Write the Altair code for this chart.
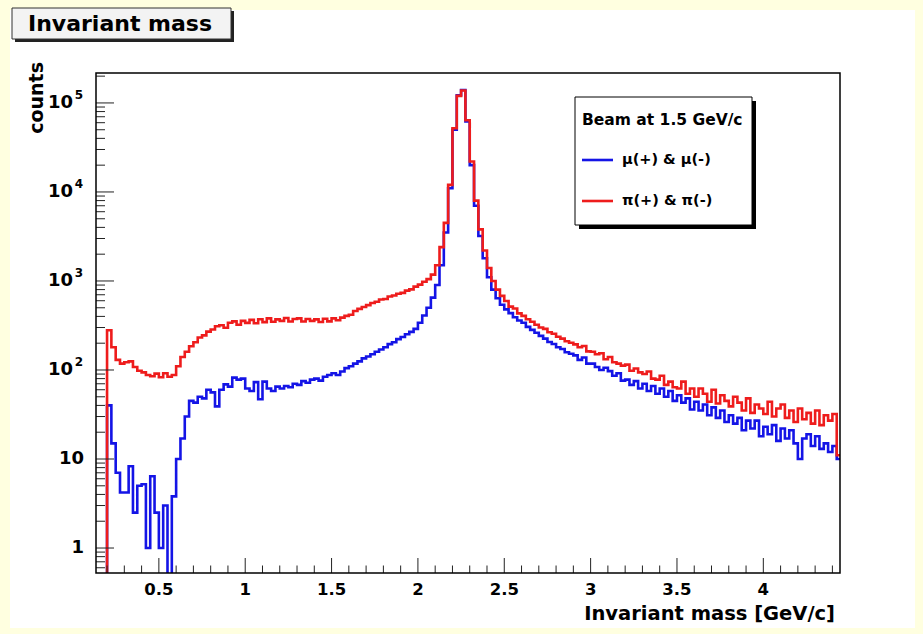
import altair as alt
import pandas as pd

# ---------------- data ----------------
BIN_START = 0.2
BIN_WIDTH = 0.025

# pi(+) & pi(-)  (red), counts per bin, bins of 0.025 GeV/c starting at 0.2
red = [
    280, 180, 130, 118,   # 0.2
    122, 125, 108, 98,    # 0.3
    94, 88, 85, 91,       # 0.4
    83, 92, 84, 88,       # 0.5
    110, 140, 160, 185,   # 0.6
    205, 232, 245, 270,   # 0.7
    285, 310, 318, 298,   # 0.8
    340, 352, 322, 356,   # 0.9
    338, 366, 335, 372,   # 1.0
    345, 380, 348, 370,   # 1.1
    356, 384, 350, 374,   # 1.2
    380, 350, 374, 356,   # 1.3
    370, 346, 376, 352,   # 1.4
    380, 362, 388, 405,   # 1.5
    418, 460, 486, 510,   # 1.6
    536, 566, 585, 620,   # 1.7
    628, 670, 686, 720,   # 1.8
    736, 780, 805, 865,   # 1.9
    910, 980, 1050, 1180,  # 2.0
    1500, 2400, 4500, 12000,  # 2.1
    52000, 120000, 138000, 64000,  # 2.2
    22000, 8000, 3800, 2200,  # 2.3
    1400, 1000, 800, 680,  # 2.4
    595, 515, 490, 432,   # 2.5
    405, 372, 348, 322,   # 2.6
    300, 290, 265, 255,   # 2.7
    236, 225, 210, 202,   # 2.8
    194, 180, 186, 162,   # 2.9
    160, 150, 154, 132,   # 3.0
    140, 122, 118, 112,   # 3.1
    115, 98, 104, 94,     # 3.2
    90, 96, 80, 78,       # 3.3
    86, 68, 74, 64,       # 3.4
    62, 74, 54, 62,       # 3.5
    50, 62, 54, 44,       # 3.6
    60, 42, 52, 45,       # 3.7
    39, 50, 43, 35,       # 3.8
    48, 33, 41, 37,       # 3.9
    32, 44, 30, 37,       # 4.0
    41, 29, 35, 26,       # 4.1
    37, 28, 33, 25,       # 4.2
    35, 24, 31, 27,       # 4.3
    32, 11,               # 4.4
]

# mu(+) & mu(-)  (blue)
blue = [
    40, 15, 7, 4.2,       # 0.2
    4.2, 8.3, 2.5, 5,     # 0.3
    5.2, 1, 6.4, 2.5,     # 0.4
    1, 3, 0, 3.8,         # 0.5
    10, 17, 30, 45,       # 0.6
    43, 50, 48, 60,       # 0.7
    56, 39, 60, 69,       # 0.8
    65, 82, 78, 80,       # 0.9
    62, 58, 73, 47,       # 1.0
    74, 62, 58, 65,       # 1.1
    62, 66, 64, 70,       # 1.2
    68, 75, 72, 78,       # 1.3
    80, 76, 84, 88,       # 1.4
    92, 88, 96, 105,      # 1.5
    110, 118, 125, 135,   # 1.6
    142, 150, 160, 170,   # 1.7
    180, 195, 205, 222,   # 1.8
    235, 252, 268, 290,   # 1.9
    340, 410, 500, 650,   # 2.0
    900, 1500, 3500, 11000,  # 2.1
    50000, 122000, 140000, 62000,  # 2.2
    20000, 7000, 3200, 1800,  # 2.3
    1100, 800, 640, 540,  # 2.4
    480, 435, 392, 360,   # 2.5
    340, 305, 282, 262,   # 2.6
    242, 225, 206, 196,   # 2.7
    180, 172, 158, 152,   # 2.8
    146, 130, 138, 118,   # 2.9
    118, 108, 100, 106,   # 3.0
    97, 86, 92, 76,       # 3.1
    78, 68, 75, 62,       # 3.2
    70, 58, 66, 54,       # 3.3
    62, 50, 58, 45,       # 3.4
    52, 43, 48, 36,       # 3.5
    44, 35, 41, 31,       # 3.6
    38, 29, 35, 26,       # 3.7
    31, 25, 29, 21,       # 3.8
    27, 22, 27, 18,       # 3.9
    23, 19, 24, 16,       # 4.0
    22, 17, 21, 15,       # 4.1
    10, 17, 19, 14,       # 4.2
    18, 13, 15, 12,       # 4.3
    14, 10,               # 4.4
]

x_major = [0.5, 1, 1.5, 2, 2.5, 3, 3.5, 4]
x_major_labels = ["0.5", "1", "1.5", "2", "2.5", "3", "3.5", "4"]
x_minor = [0.2, 0.3, 0.4, 0.6, 0.7, 0.8, 0.9, 1.1, 1.2, 1.3, 1.4, 1.6, 1.7, 1.8, 1.9,
           2.1, 2.2, 2.3, 2.4, 2.6, 2.7, 2.8, 2.9, 3.1, 3.2, 3.3, 3.4, 3.6, 3.7, 3.8,
           3.9, 4.1, 4.2, 4.3, 4.4]
y_major = [1, 10, 100, 1000, 10000, 100000]
y_base = ["1", "10", "10", "10", "10", "10"]
y_exp = ["", "", "2", "3", "4", "5"]
y_minor = [0.6, 0.7, 0.8, 0.9,
           2, 3, 4, 5, 6, 7, 8, 9,
           20, 30, 40, 50, 60, 70, 80, 90,
           200, 300, 400, 500, 600, 700, 800, 900,
           2000, 3000, 4000, 5000, 6000, 7000, 8000, 9000,
           20000, 30000, 40000, 50000, 60000, 70000, 80000, 90000,
           200000]

X_DOMAIN = [0.136, 4.444]
Y_DOMAIN = [0.524, 2.17e5]

# ---------------- layout ----------------
W, H = 744, 500
FONT = "DejaVu Sans"
RED = "#ee1c1c"
BLUE = "#1414e6"

xs = alt.Scale(domain=X_DOMAIN, nice=False, zero=False)
ys = alt.Scale(type="log", domain=Y_DOMAIN, nice=False)


def hist_df(vals):
    n = len(vals)
    edges = [round(BIN_START + BIN_WIDTH * i, 4) for i in range(n + 1)]
    xs_ = [X_DOMAIN[0]] + edges[:n] + [edges[n]]
    ys_ = [0] + list(vals) + [vals[-1]]
    return pd.DataFrame({"m": xs_, "c": ys_})


def hist_layer(vals, color):
    return (
        alt.Chart(hist_df(vals))
        .transform_calculate(cy="max(datum.c, 0.2)")
        .mark_line(interpolate="step-after", clip=True, strokeWidth=2.6, color=color)
        .encode(
            x=alt.X("m:Q", scale=xs, axis=None),
            y=alt.Y("cy:Q", scale=ys, axis=None),
            order=alt.Order("m:Q"),
        )
    )


one = pd.DataFrame({"a": [0]})


def box(x1, y1, x2, y2, **kw):
    return alt.Chart(one).mark_rect(**kw).encode(
        x=alt.value(x1), x2=alt.value(x2), y=alt.value(y1), y2=alt.value(y2)
    )


def label(txt, x, y, **kw):
    return alt.Chart(pd.DataFrame({"t": [txt]})).mark_text(font=FONT, **kw).encode(
        x=alt.value(x), y=alt.value(y), text="t:N"
    )


# white canvas inside a pale yellow border
bg = box(-86, -63, 819, 555, fill="white", strokeWidth=0)

# title box
title_shadow = box(-81, -62, 138, -31, fill="#222222", strokeWidth=0)
title_box = box(-84, -65, 135, -34, fill="#f3f3f3", stroke="#333333", strokeWidth=1)
title_txt = label("Invariant mass", 24, -49, fontSize=22, fontWeight="bold",
                  align="center", baseline="middle", color="black")

blue_line = hist_layer(blue, BLUE)
red_line = hist_layer(red, RED)

# ticks (inside the frame, ROOT style)
xmaj = alt.Chart(pd.DataFrame({"v": x_major})).mark_rule(color="#222", strokeWidth=1).encode(
    x=alt.X("v:Q", scale=xs, axis=None), y=alt.value(H), y2=alt.value(H - 15))
xmin = alt.Chart(pd.DataFrame({"v": x_minor})).mark_rule(color="#222", strokeWidth=1).encode(
    x=alt.X("v:Q", scale=xs, axis=None), y=alt.value(H), y2=alt.value(H - 7.5))
ymaj = alt.Chart(pd.DataFrame({"v": y_major})).mark_rule(color="#222", strokeWidth=1).encode(
    y=alt.Y("v:Q", scale=ys, axis=None), x=alt.value(0), x2=alt.value(18))
ymin = alt.Chart(pd.DataFrame({"v": y_minor})).mark_rule(color="#222", strokeWidth=1).encode(
    y=alt.Y("v:Q", scale=ys, axis=None), x=alt.value(0), x2=alt.value(9))

frame = box(0, 0, W, H, filled=False, stroke="black", strokeWidth=1.5)

# tick labels
xlab = alt.Chart(pd.DataFrame({"v": x_major, "t": x_major_labels})).mark_text(
    font=FONT, fontSize=16.5, fontWeight="bold", align="center", baseline="middle", color="black"
).encode(x=alt.X("v:Q", scale=xs, axis=None), y=alt.value(H + 17), text="t:N")

ydf = pd.DataFrame({"v": y_major, "b": y_base, "e": y_exp})
ylab_plain = alt.Chart(ydf).transform_filter("datum.e == ''").mark_text(
    font=FONT, fontSize=18, fontWeight="bold", align="right", baseline="middle", color="black"
).encode(y=alt.Y("v:Q", scale=ys, axis=None), x=alt.value(-12), text="b:N")
ylab_base = alt.Chart(ydf).transform_filter("datum.e != ''").mark_text(
    font=FONT, fontSize=18, fontWeight="bold", align="right", baseline="middle", color="black"
).encode(y=alt.Y("v:Q", scale=ys, axis=None), x=alt.value(-23), text="b:N")
ylab_exp = alt.Chart(ydf).transform_filter("datum.e != ''").mark_text(
    font=FONT, fontSize=12, fontWeight="bold", align="right", baseline="middle", dy=-8,
    color="black"
).encode(y=alt.Y("v:Q", scale=ys, axis=None), x=alt.value(-13), text="e:N")

# axis titles
xtitle = label("Invariant mass [GeV/c]", 739, 541, fontSize=19.5, fontWeight="bold",
               align="right", baseline="middle", color="black")
ytitle = label("counts", -59, -11, fontSize=19, fontWeight="bold", angle=270,
               align="right", baseline="middle", color="black")

# legend
leg_shadow = box(483, 28, 660, 156, fill="black", strokeWidth=0)
leg_box = box(479, 24, 656, 152, fill="white", stroke="black", strokeWidth=1)
leg_head = label("Beam at 1.5 GeV/c", 486, 47, fontSize=15.5, fontWeight="bold",
                 align="left", baseline="middle", color="black")
leg_blue = alt.Chart(one).mark_rule(color=BLUE, strokeWidth=2.6).encode(
    x=alt.value(486), x2=alt.value(517), y=alt.value(87))
leg_red = alt.Chart(one).mark_rule(color=RED, strokeWidth=2.6).encode(
    x=alt.value(486), x2=alt.value(517), y=alt.value(128))
leg_blue_t = label("μ(+) & μ(-)", 526, 87, fontSize=14.5, fontWeight="bold",
                   align="left", baseline="middle", color="black")
leg_red_t = label("π(+) & π(-)", 526, 128, fontSize=14.5, fontWeight="bold",
                  align="left", baseline="middle", color="black")

chart = alt.layer(
    bg, title_shadow, title_box, title_txt,
    blue_line, red_line,
    xmaj, xmin, ymaj, ymin, frame,
    xlab, ylab_plain, ylab_base, ylab_exp, xtitle, ytitle,
    leg_shadow, leg_box, leg_head, leg_blue, leg_red, leg_blue_t, leg_red_t,
).properties(
    width=W, height=H,
    background="#ffffe0",
    padding={"left": 96, "top": 73, "right": 83, "bottom": 61},
    autosize=alt.AutoSizeParams(type="none"),
).configure_view(stroke=None, fill="white")

chart.save("out.html", embed_options={"renderer": "svg", "actions": False})
